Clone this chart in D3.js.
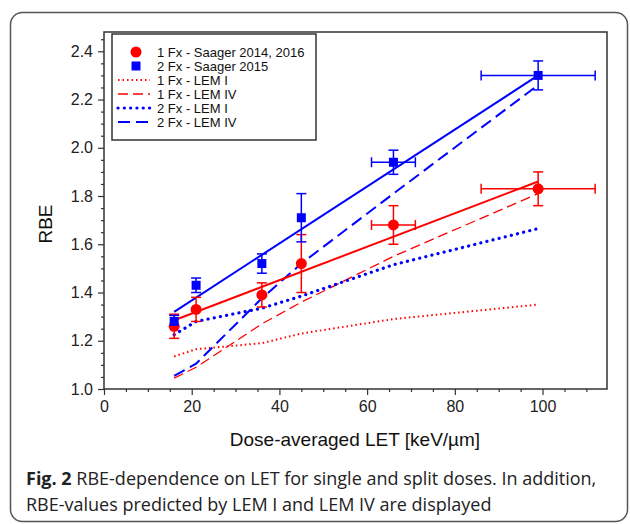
<!DOCTYPE html>
<html><head><meta charset="utf-8">
<script src="https://cdn.jsdelivr.net/npm/d3@7"></script>
<style>
html,body{margin:0;padding:0;background:#fff;}
svg{display:block;}
</style></head>
<body>
<svg id="chart" width="630" height="524"></svg>
<script>
// ---- data ----
const letValues = [16, 21, 36, 45, 66, 99];
const letErr    = [0, 0, 0, 0, 5, 13];
const rbe1Fx    = [1.26, 1.33, 1.39, 1.52, 1.68, 1.83];
const err1Fx    = [0.05, 0.05, 0.05, 0.12, 0.08, 0.07];
const rbe2Fx    = [1.28, 1.43, 1.52, 1.71, 1.94, 2.30];
const err2Fx    = [0.025, 0.03, 0.04, 0.10, 0.05, 0.06];
const lemI1Fx   = [1.135, 1.165, 1.19, 1.23, 1.29, 1.35];
const lemIV1Fx  = [1.045, 1.09, 1.27, 1.36, 1.55, 1.81];
const lemI2Fx   = [1.225, 1.28, 1.335, 1.385, 1.515, 1.665];
const lemIV2Fx  = [1.054, 1.105, 1.376, 1.52, 1.81, 2.26];
const fitLet    = [16, 99];
const fit1Fx    = [1.285, 1.86];
const fit2Fx    = [1.32, 2.30];
const xTicks    = [0, 20, 40, 60, 80, 100];
const yTicks    = [1.0, 1.2, 1.4, 1.6, 1.8, 2.0, 2.2, 2.4];
const legendLabels = ["1 Fx - Saager 2014, 2016", "2 Fx - Saager 2015", "1 Fx - LEM I", "1 Fx - LEM IV", "2 Fx - LEM I", "2 Fx - LEM IV"];
const xTitle = "Dose-averaged LET [keV/\u00b5m]";
const yTitle = "RBE";

const RED = "#ff0000", BLUE = "#0000ff", AX = "#333";
const svg = d3.select("#chart");

// outer rounded frame
svg.append("rect").attr("x",10.5).attr("y",12.5).attr("width",617).attr("height",509)
  .attr("rx",12).attr("fill","#fff").attr("stroke","#555").attr("stroke-width",1.5);

const L = 104, R = 607, T = 32, B = 389;
const x = d3.scaleLinear().domain([0, 114.7]).range([L, R]);
const y = d3.scaleLinear().domain([1.0, 2.48]).range([B, T]);

// plot frame
svg.append("rect").attr("x",L).attr("y",T).attr("width",R-L).attr("height",B-T)
  .attr("fill","none").attr("stroke",AX).attr("stroke-width",1.5);

// axes
const xAxis = svg.append("g").attr("transform",`translate(0,${B})`)
  .call(d3.axisBottom(x).tickValues(xTicks).tickFormat(d3.format("d")).tickSize(6).tickPadding(6));
const xMinor = svg.append("g").attr("transform",`translate(0,${B})`)
  .call(d3.axisBottom(x).tickValues(d3.range(5,115,5).filter(v=>v%20!==0)).tickSize(3).tickFormat(""));
const yAxis = svg.append("g").attr("transform",`translate(${L},0)`)
  .call(d3.axisLeft(y).tickValues(yTicks).tickFormat(d3.format(".1f")).tickSize(6).tickPadding(5));
const yMinor = svg.append("g").attr("transform",`translate(${L},0)`)
  .call(d3.axisLeft(y).tickValues(d3.range(1.05,2.48,0.05).filter(v=>Math.abs(v*5-Math.round(v*5))>0.01)).tickSize(3).tickFormat(""));
[xAxis,xMinor,yAxis,yMinor].forEach(g=>{
  g.select(".domain").remove();
  g.selectAll("line").attr("stroke",AX).attr("stroke-width",1.2);
  g.selectAll("text").attr("font-family","Liberation Sans, Arial, sans-serif").attr("font-size",16).attr("fill","#222");
});

svg.append("text").attr("x",355).attr("y",446).attr("text-anchor","middle")
  .attr("font-family","Liberation Sans, Arial, sans-serif").attr("font-size",19).attr("fill","#111").text(xTitle);
svg.append("text").attr("transform","translate(52,224) rotate(-90)").attr("text-anchor","middle")
  .attr("font-family","Liberation Sans, Arial, sans-serif").attr("font-size",19).attr("fill","#111").text(yTitle);

// model lines
const line = d3.line().x(d=>x(d[0])).y(d=>y(d[1]));
const styles = [
  {vals: lemI1Fx, color: RED, w: 2, dash: "1.5,3", cap: "butt"},
  {vals: lemIV1Fx, color: RED, w: 1.3, dash: "10,5", cap: "butt"},
  {vals: lemI2Fx, color: BLUE, w: 3.2, dash: "0.1,6.2", cap: "round"},
  {vals: lemIV2Fx, color: BLUE, w: 2, dash: "12,6", cap: "butt"}
];
styles.forEach(s=>{
  svg.append("path").datum(letValues.map((v,i)=>[v,s.vals[i]])).attr("d",line)
    .attr("fill","none").attr("stroke",s.color).attr("stroke-width",s.w)
    .attr("stroke-dasharray",s.dash).attr("stroke-linecap",s.cap);
});
// fit lines
svg.append("path").datum(fitLet.map((v,i)=>[v,fit1Fx[i]])).attr("d",line)
  .attr("fill","none").attr("stroke",RED).attr("stroke-width",2);
svg.append("path").datum(fitLet.map((v,i)=>[v,fit2Fx[i]])).attr("d",line)
  .attr("fill","none").attr("stroke",BLUE).attr("stroke-width",2);

// error bars
function errorBars(vals, errs, color){
  const g = svg.append("g").attr("stroke",color).attr("stroke-width",1.5).attr("fill","none");
  letValues.forEach((lv,i)=>{
    const cx = x(lv), cy = y(vals[i]);
    const y0 = y(vals[i]-errs[i]), y1 = y(vals[i]+errs[i]);
    g.append("line").attr("x1",cx).attr("x2",cx).attr("y1",y0).attr("y2",y1);
    g.append("line").attr("x1",cx-5).attr("x2",cx+5).attr("y1",y0).attr("y2",y0);
    g.append("line").attr("x1",cx-5).attr("x2",cx+5).attr("y1",y1).attr("y2",y1);
    if(letErr[i]>0){
      const x0 = x(lv-letErr[i]), x1 = x(lv+letErr[i]);
      g.append("line").attr("x1",x0).attr("x2",x1).attr("y1",cy).attr("y2",cy);
      g.append("line").attr("x1",x0).attr("x2",x0).attr("y1",cy-5).attr("y2",cy+5);
      g.append("line").attr("x1",x1).attr("x2",x1).attr("y1",cy-5).attr("y2",cy+5);
    }
  });
}
errorBars(rbe1Fx, err1Fx, RED);
errorBars(rbe2Fx, err2Fx, BLUE);

// markers
svg.append("g").selectAll("circle").data(letValues).join("circle")
  .attr("cx",d=>x(d)).attr("cy",(d,i)=>y(rbe1Fx[i])).attr("r",5.5).attr("fill",RED);
svg.append("g").selectAll("rect").data(letValues).join("rect")
  .attr("x",d=>x(d)-4.5).attr("y",(d,i)=>y(rbe2Fx[i])-4.5).attr("width",9).attr("height",9).attr("fill",BLUE);

// legend
const lg = svg.append("g");
lg.append("rect").attr("x",112).attr("y",34).attr("width",204).attr("height",106)
  .attr("fill","#fff").attr("stroke",AX).attr("stroke-width",1.5);
const ly = i => 52 + i*14;
lg.append("circle").attr("cx",136).attr("cy",ly(0)).attr("r",5.5).attr("fill",RED);
lg.append("rect").attr("x",131.5).attr("y",ly(1)-4.5).attr("width",9).attr("height",9).attr("fill",BLUE);
styles.forEach((s,k)=>{
  lg.append("line").attr("x1",118).attr("x2",150).attr("y1",ly(k+2)).attr("y2",ly(k+2))
    .attr("stroke",s.color).attr("stroke-width",s.w).attr("stroke-dasharray",s.dash).attr("stroke-linecap",s.cap);
});
legendLabels.forEach((t,i)=>{
  lg.append("text").attr("x",157).attr("y",ly(i)+4.7)
    .attr("font-family","Liberation Sans, Arial, sans-serif").attr("font-size",13).attr("fill","#111").text(t);
});

// caption
const cap = svg.append("text").attr("font-family","Open Sans, Noto Sans, sans-serif").attr("font-size",18).attr("fill","#222");
const l1 = cap.append("tspan").attr("x",26).attr("y",485);
l1.append("tspan").attr("font-weight","bold").text("Fig. 2");
l1.append("tspan").text(" RBE-dependence on LET for single and split doses. In addition,");
cap.append("tspan").attr("x",26).attr("y",511).text("RBE-values predicted by LEM I and LEM IV are displayed");
</script>
</body></html>
